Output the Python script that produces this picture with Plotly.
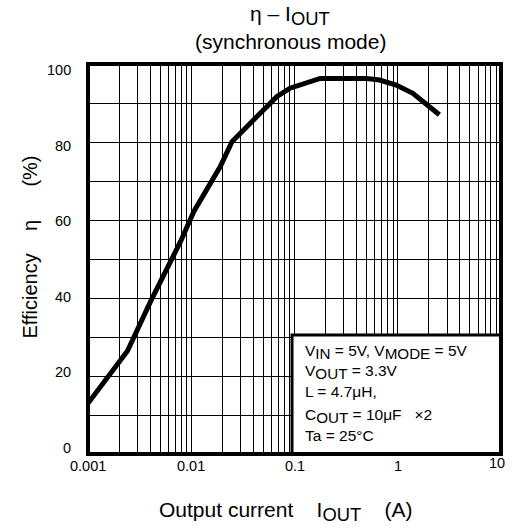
import plotly.graph_objects as go

# Data
iout_a = [0.001, 0.00241, 0.00405, 0.00608, 0.00788, 0.0106, 0.0191, 0.0248, 0.0401,
          0.0673, 0.0905, 0.152, 0.177, 0.30, 0.497, 0.667, 0.966, 1.40, 2.02, 2.53]
efficiency_pct = [13.0, 26.4, 39.2, 48.2, 54.5, 62.2, 73.7, 80.1, 85.7,
                  91.6, 93.8, 95.9, 96.3, 96.3, 96.3, 95.9, 94.6, 92.5, 89.1, 87.0]

x_tick_vals = [0.001, 0.01, 0.1, 1, 10]
x_tick_text = ["0.001", "0.01", "0.1", "1", "10"]
y_tick_vals = [0, 20, 40, 60, 80, 100]
y_tick_text = ["0", "20", "40", "60", "80", "100"]

FONT = "Liberation Sans, Arial, sans-serif"
TICK_SIZE = 14.5


def sub(t, pct=125):
    return "<sub><span style='font-size:%d%%'>" % pct + t + "</span></sub>"


x_minor = [m * 10 ** e for e in range(-3, 1) for m in range(2, 10)]

fig = go.Figure()
fig.add_trace(go.Scatter(
    x=iout_a, y=efficiency_pct, mode="lines",
    line=dict(color="black", width=5),
    showlegend=False, hoverinfo="skip",
))

fig.update_layout(
    width=515, height=528,
    margin=dict(l=88, r=14, t=64, b=74, autoexpand=False),
    paper_bgcolor="white", plot_bgcolor="white",
    font=dict(family=FONT, color="black", size=15),
    xaxis=dict(
        type="log", range=[-3, 1], automargin=False,
        tickvals=x_tick_vals, showticklabels=False,
        showgrid=True, gridcolor="black", gridwidth=1,
        minor=dict(tickvals=x_minor, showgrid=True, gridcolor="black", gridwidth=1, ticks=""),
        ticks="", showline=False, zeroline=False,
    ),
    yaxis=dict(
        range=[0, 100], automargin=False,
        tickvals=y_tick_vals, showticklabels=False,
        showgrid=True, gridcolor="black", gridwidth=1,
        minor=dict(dtick=10, showgrid=True, gridcolor="black", gridwidth=1, ticks=""),
        ticks="", showline=False, zeroline=False,
    ),
)

# tick labels (placed like the reference: end labels nudged inward)
for v, t in zip(y_tick_vals, y_tick_text):
    fig.add_annotation(
        text=t, xref="paper", yref="y", x=(73 - 88) / 413, y=v,
        xanchor="right", yanchor="middle", showarrow=False,
        yshift=-0.12 * (v - 50),
        font=dict(size=TICK_SIZE, family=FONT, color="black"),
    )
for i, (v, t) in enumerate(zip(x_tick_vals, x_tick_text)):
    last = i == len(x_tick_vals) - 1
    fig.add_annotation(
        text=t, xref="x", yref="paper", x=__import__("math").log10(v), y=0,
        xanchor="center", yanchor="middle", showarrow=False,
        xshift=-4 if last else 0, yshift=-9 if last else -11.7,
        font=dict(size=TICK_SIZE, family=FONT, color="black"),
    )

# legend box with conditions
fig.add_shape(type="rect", xref="paper", yref="paper",
              x0=0.494, x1=1.0, y0=0.0, y1=0.305,
              fillcolor="white", line=dict(color="black", width=3), layer="above")
# thick plot frame
fig.add_shape(type="rect", xref="paper", yref="paper",
              x0=0, x1=1, y0=0, y1=1,
              line=dict(color="black", width=4), layer="above")

box_lines = [
    ("V" + sub("IN", 140) + " = 5V, V" + sub("MODE", 140) + " = 5V", 351.7),
    ("V" + sub("OUT", 140) + " = 3.3V", 372.3),
    ("L = 4.7μH,", 391.7),
    ("C" + sub("OUT", 140) + " = 10μF \u00a0\u00a0×2", 415.7),
    ("Ta = 25°C", 435.7),
]
for txt, ypx in box_lines:
    fig.add_annotation(
        text=txt, xref="paper", yref="paper",
        x=(303 - 88) / 413, y=(454 - ypx) / 390,
        xanchor="left", yanchor="middle", showarrow=False,
        font=dict(size=15.5, family=FONT, color="black"),
    )

# chart title (two lines)
fig.add_annotation(
    text="η – I" + sub("OUT"), xref="paper", yref="paper",
    x=(290 - 88) / 413, y=(454 - 15) / 390,
    xanchor="center", yanchor="middle", showarrow=False,
    font=dict(size=21, family=FONT, color="black"),
)
fig.add_annotation(
    text="(synchronous mode)", xref="paper", yref="paper",
    x=(290 - 88) / 413, y=(454 - 42) / 390,
    xanchor="center", yanchor="middle", showarrow=False,
    font=dict(size=21, family=FONT, color="black"),
)

# axis titles
fig.add_annotation(
    text="Output current\u00a0\u00a0\u00a0\u00a0I" + sub("OUT") + "\u00a0\u00a0\u00a0\u00a0(A)",
    xref="paper", yref="paper", x=(285.5 - 88) / 413, y=(454 - 512) / 390,
    xanchor="center", yanchor="middle", showarrow=False,
    font=dict(size=21, family=FONT, color="black"),
)
fig.add_annotation(
    text="Efficiency\u00a0\u00a0\u00a0\u00a0η\u00a0\u00a0\u00a0\u00a0\u00a0\u00a0(%)",
    xref="paper", yref="paper", x=(29 - 88) / 413, y=(454 - 247.5) / 390,
    xanchor="center", yanchor="middle", textangle=-90, showarrow=False,
    font=dict(size=20, family=FONT, color="black"),
)

fig.write_html(
    "out.html",
    config={"displayModeBar": False},
    post_script="document.body.style.margin='0';document.body.style.padding='0';",
)
